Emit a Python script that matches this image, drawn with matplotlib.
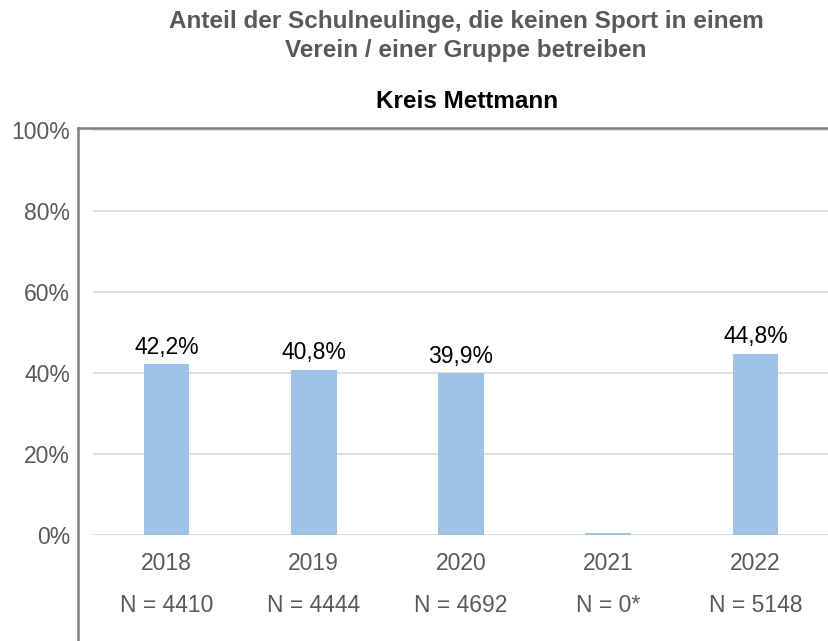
import matplotlib.pyplot as plt
from matplotlib.lines import Line2D
from matplotlib.transforms import blended_transform_factory

plt.rcParams['font.family'] = ['Liberation Sans', 'DejaVu Sans']

# Daten
years = ['2018', '2019', '2020', '2021', '2022']
n_labels = ['N = 4410', 'N = 4444', 'N = 4692', 'N = 0*', 'N = 5148']
values = [42.2, 40.8, 39.9, 0.5, 44.8]
value_labels = ['42,2%', '40,8%', '39,9%', '', '44,8%']
y_ticks = [0, 20, 40, 60, 80, 100]

W, H = 829, 641
fig = plt.figure(figsize=(W / 100, H / 100), dpi=100)
ax = fig.add_axes([93 / W, 1 - 535 / H, (829 - 93) / W, (535 - 130) / H])

x = list(range(len(years)))
ax.bar(x, values, width=0.31, color='#9dc3e6', zorder=3)
for xi, v, lab in zip(x, values, value_labels):
    if lab:
        ax.text(xi, v + 1.3, lab, ha='center', va='bottom', fontsize=16.5, color='black')

ax.set_xlim(-0.5, 4.5)
ax.set_ylim(0, 100)
ax.set_yticks(y_ticks)
ax.set_yticklabels([f'{t}%' for t in y_ticks], fontsize=16.5, color='#595959')
ax.set_xticks(x)
ax.set_xticklabels(years, fontsize=16.5, color='#595959')
ax.tick_params(length=0)
ax.tick_params(axis='y', pad=16.5)
ax.tick_params(axis='x', pad=12)
ax.grid(axis='y', color='#d9d9d9', linewidth=1.2, zorder=0)
for s in ax.spines.values():
    s.set_visible(False)

# N-Zeilen unter den Jahren
tr = blended_transform_factory(ax.transData, fig.transFigure)
for xi, lab in zip(x, n_labels):
    ax.text(xi, 1 - 606 / H, lab, transform=tr, ha='center', va='center',
            fontsize=16.5, color='#595959')

# Rahmen links und oben
fig.add_artist(Line2D([78 / W, 78 / W], [0, 1 - 128 / H], color='#7f7f7f', linewidth=1.8))
fig.add_artist(Line2D([78 / W, 1], [1 - 128 / H, 1 - 128 / H], color='#7f7f7f', linewidth=1.8))

fig.text(466 / W, 1 - 36 / H,
         'Anteil der Schulneulinge, die keinen Sport in einem\nVerein / einer Gruppe betreiben',
         ha='center', va='center', fontsize=17.5, fontweight='bold', color='#595959',
         linespacing=1.3)
fig.text(467 / W, 1 - 101 / H, 'Kreis Mettmann', ha='center', va='center',
         fontsize=17.5, fontweight='bold', color='black')

fig.savefig('out.png', dpi=100, facecolor='white')
